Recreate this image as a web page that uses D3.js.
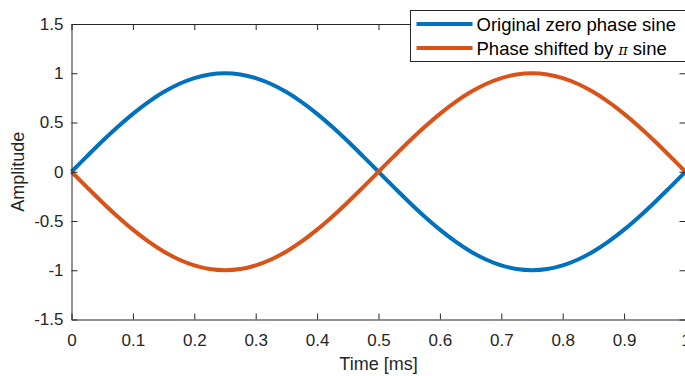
<!DOCTYPE html>
<html>
<head>
<meta charset="utf-8">
<script src="https://cdn.jsdelivr.net/npm/d3@7"></script>
<style>
  body { margin: 0; background: #fff; }
  svg { display: block; font-family: "Liberation Sans", Arial, Helvetica, sans-serif; }
</style>
</head>
<body>
<div id="chart"></div>
<script>
// time samples [ms]
const timeMs = [0, 0.025, 0.05, 0.075, 0.1, 0.125, 0.15, 0.175, 0.2, 0.225, 0.25,
  0.275, 0.3, 0.325, 0.35, 0.375, 0.4, 0.425, 0.45, 0.475, 0.5,
  0.525, 0.55, 0.575, 0.6, 0.625, 0.65, 0.675, 0.7, 0.725, 0.75,
  0.775, 0.8, 0.825, 0.85, 0.875, 0.9, 0.925, 0.95, 0.975, 1];

// amplitudes
const originalSine = [0, 0.156, 0.309, 0.454, 0.588, 0.707, 0.809, 0.891, 0.951, 0.988, 1,
  0.988, 0.951, 0.891, 0.809, 0.707, 0.588, 0.454, 0.309, 0.156, 0,
  -0.156, -0.309, -0.454, -0.588, -0.707, -0.809, -0.891, -0.951, -0.988, -1,
  -0.988, -0.951, -0.891, -0.809, -0.707, -0.588, -0.454, -0.309, -0.156, 0];
const shiftedSine = [0, -0.156, -0.309, -0.454, -0.588, -0.707, -0.809, -0.891, -0.951, -0.988, -1,
  -0.988, -0.951, -0.891, -0.809, -0.707, -0.588, -0.454, -0.309, -0.156, 0,
  0.156, 0.309, 0.454, 0.588, 0.707, 0.809, 0.891, 0.951, 0.988, 1,
  0.988, 0.951, 0.891, 0.809, 0.707, 0.588, 0.454, 0.309, 0.156, 0];

const xTicks = [0, 0.1, 0.2, 0.3, 0.4, 0.5, 0.6, 0.7, 0.8, 0.9, 1];
const yTicks = [-1.5, -1, -0.5, 0, 0.5, 1, 1.5];

const seriesNames = ['Original zero phase sine', 'Phase shifted by π sine'];
const seriesColours = ['#0072BD', '#D95319'];

const width = 685, height = 376;
const margin = { left: 71.5, top: 24, right: -0.5, bottom: 56.5 };
const axisColour = '#262626';

const svg = d3.select('#chart').append('svg')
  .attr('width', width)
  .attr('height', height);

const x = d3.scaleLinear().domain([0, 1]).range([margin.left, width - margin.right]);
const y = d3.scaleLinear().domain([-1.5, 1.5]).range([height - margin.bottom, margin.top]);

// curves
const series = [originalSine, shiftedSine];
const line = d3.line()
  .x((d, i) => x(timeMs[i]))
  .y(d => y(d))
  .curve(d3.curveCatmullRom);

const plot = svg.append('g');
series.forEach((values, k) => {
  plot.append('path')
    .datum(values)
    .attr('fill', 'none')
    .attr('stroke', seriesColours[k])
    .attr('stroke-width', 4)
    .attr('d', line);
});

// box axes with inward ticks (matlab style, plain hyphen minus)
const tickLen = 6;
const axes = [
  { axis: d3.axisBottom(x), tr: `translate(0,${y(-1.5)})`, labels: true },
  { axis: d3.axisTop(x), tr: `translate(0,${y(1.5)})`, labels: false },
  { axis: d3.axisLeft(y), tr: `translate(${x(0)},0)`, labels: true },
  { axis: d3.axisRight(y), tr: `translate(${x(1)},0)`, labels: false },
];
axes.forEach((a, i) => {
  const isX = i < 2;
  a.axis.tickValues(isX ? xTicks : yTicks)
    .tickSizeInner(-tickLen)
    .tickSizeOuter(0)
    .tickPadding(isX ? 14 : 8)
    .tickFormat(a.labels ? (d => String(d)) : '');
  const g = svg.append('g').attr('transform', a.tr).call(a.axis);
  g.select('.domain').attr('stroke', axisColour).attr('stroke-width', 1);
  g.selectAll('.tick line').attr('stroke', axisColour).attr('stroke-width', 1);
  g.selectAll('.tick text')
    .attr('fill', axisColour)
    .style('font-size', '17px')
    .style('font-family', '"Liberation Sans", Arial, sans-serif');
});

// axis titles
svg.append('text')
  .attr('x', (x(0) + x(1)) / 2)
  .attr('y', 370)
  .attr('text-anchor', 'middle')
  .attr('fill', axisColour)
  .style('font-size', '18px')
  .text('Time [ms]');

svg.append('text')
  .attr('transform', `translate(24,${(y(-1.5) + y(1.5)) / 2}) rotate(-90)`)
  .attr('text-anchor', 'middle')
  .attr('fill', axisColour)
  .style('font-size', '18px')
  .text('Amplitude');

// legend
const legend = svg.append('g').attr('transform', 'translate(410.5,10.5)');
legend.append('rect')
  .attr('width', 290)
  .attr('height', 51)
  .attr('fill', '#fff')
  .attr('stroke', axisColour)
  .attr('stroke-width', 1);

seriesNames.forEach((name, k) => {
  const ly = 13.5 + k * 24;
  legend.append('line')
    .attr('x1', 6).attr('x2', 62)
    .attr('y1', ly).attr('y2', ly)
    .attr('stroke', seriesColours[k])
    .attr('stroke-width', 4);
  const t = legend.append('text')
    .attr('x', 66)
    .attr('y', ly + 6.5)
    .attr('fill', '#000')
    .style('font-size', '18.5px');
  if (name.includes('π')) {
    const parts = name.split('π');
    t.append('tspan').text(parts[0]);
    t.append('tspan').attr('font-style', 'italic')
      .style('font-family', '"DejaVu Serif", serif')
      .style('font-size', '14px').text('π');
    t.append('tspan').text(parts[1]);
  } else {
    t.text(name);
  }
});
</script>
</body>
</html>
